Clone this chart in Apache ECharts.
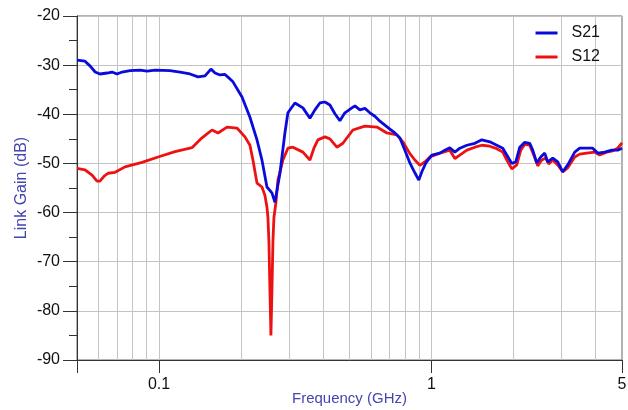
<!DOCTYPE html>
<html>
<head>
<meta charset="utf-8">
<script src="https://cdn.jsdelivr.net/npm/echarts@6/dist/echarts.min.js"></script>
<style>
html, body { margin: 0; padding: 0; background: #fff; }
#main { width: 628px; height: 410px; }
</style>
</head>
<body>
<div id="main"></div>
<script>
// S21 trace (GHz, dB)
var s21Freq = [0.0500, 0.0535, 0.0559, 0.0583, 0.0607, 0.0645, 0.0672, 0.0701, 0.0732, 0.0783,
	0.0852, 0.0904, 0.0967, 0.1097, 0.1194, 0.1299, 0.1390, 0.1475, 0.1551, 0.1605,
	0.1674, 0.1746, 0.1821, 0.1868, 0.2016, 0.2156, 0.2288, 0.2386, 0.2489, 0.2596,
	0.2663, 0.2778, 0.2897, 0.2971, 0.3152, 0.3373, 0.3579, 0.3733, 0.3894, 0.4062,
	0.4237, 0.4420, 0.4610, 0.4809, 0.5102, 0.5233, 0.5459, 0.5695, 0.5940, 0.6197,
	0.6464, 0.6743, 0.7034, 0.7337, 0.7653, 0.7984, 0.8328, 0.8687, 0.8980, 0.9216,
	0.9533, 1.0025, 1.073, 1.119, 1.167, 1.218, 1.270, 1.348, 1.442, 1.530,
	1.636, 1.736, 1.826, 1.889, 1.970, 2.038, 2.108, 2.198, 2.293, 2.352,
	2.433, 2.516, 2.603, 2.670, 2.785, 2.905, 3.030, 3.161, 3.354, 3.498,
	3.711, 3.904, 4.072, 4.320, 4.584, 4.821, 5.000];
var s21Gain = [-29.0, -29.2, -30.2, -31.4, -31.8, -31.6, -31.4, -31.8, -31.4, -31.1,
	-31.0, -31.2, -31.0, -31.1, -31.4, -31.8, -32.4, -32.2, -30.8, -31.6,
	-32.0, -31.9, -32.8, -33.4, -36.5, -40.6, -45.2, -49.3, -54.8, -56.0,
	-57.9, -52.0, -43.8, -39.7, -37.7, -38.7, -40.8, -39.1, -37.7, -37.5,
	-38.1, -39.9, -41.3, -39.7, -38.7, -38.3, -39.1, -38.8, -39.7, -40.4,
	-41.4, -42.2, -43.0, -43.8, -44.8, -47.3, -49.9, -51.9, -53.4, -51.7,
	-49.9, -48.3, -47.9, -47.3, -46.8, -47.7, -46.9, -46.3, -45.9, -45.2,
	-45.6, -46.3, -46.9, -48.3, -50.0, -49.7, -46.7, -45.7, -45.9, -47.3,
	-49.9, -48.7, -47.9, -49.7, -48.9, -49.7, -51.7, -50.3, -47.7, -46.9,
	-46.9, -46.9, -47.9, -47.7, -47.3, -47.3, -46.9];

// S12 trace (GHz, dB)
var s12Freq = [0.0500, 0.0535, 0.0568, 0.0592, 0.0607, 0.0629, 0.0650, 0.0690, 0.0750, 0.0866,
	0.0992, 0.1145, 0.1321, 0.1438, 0.1500, 0.1565, 0.1646, 0.1776, 0.1932, 0.2067,
	0.2156, 0.2211, 0.2288, 0.2386, 0.2447, 0.2489, 0.2510, 0.2531, 0.2553, 0.2574,
	0.2596, 0.2618, 0.2640, 0.2685, 0.2731, 0.2849, 0.2971, 0.3099, 0.3373, 0.3579,
	0.3702, 0.3829, 0.4062, 0.4237, 0.4495, 0.4728, 0.5145, 0.5695, 0.6304, 0.6858,
	0.7463, 0.7851, 0.8328, 0.8687, 0.9062, 0.9452, 0.9858, 1.073, 1.167, 1.218,
	1.270, 1.348, 1.442, 1.530, 1.636, 1.736, 1.826, 1.889, 1.970, 2.055,
	2.126, 2.198, 2.293, 2.372, 2.453, 2.538, 2.625, 2.692, 2.785, 2.905,
	3.030, 3.161, 3.354, 3.498, 3.711, 3.970, 4.141, 4.394, 4.584, 4.821, 5.000];
var s12Gain = [-51.0, -51.3, -52.4, -53.6, -53.6, -52.6, -52.0, -51.8, -50.7, -49.8,
	-48.7, -47.6, -46.8, -44.8, -44.0, -43.2, -43.8, -42.6, -42.8, -44.6,
	-46.3, -49.3, -54.0, -54.8, -56.5, -58.9, -61.0, -66.0, -76.0, -85.0,
	-76.0, -66.0, -61.0, -58.0, -53.4, -49.3, -46.9, -46.7, -47.7, -49.3,
	-46.9, -45.2, -44.6, -45.0, -46.7, -45.9, -43.2, -42.4, -42.6, -43.8,
	-44.2, -45.6, -48.0, -49.3, -50.4, -49.7, -48.7, -47.9, -47.3, -49.0,
	-48.3, -47.3, -46.7, -46.3, -46.5, -47.0, -47.7, -49.3, -51.1, -50.3,
	-47.3, -46.1, -46.3, -48.3, -50.5, -49.3, -48.9, -50.1, -49.3, -50.3,
	-51.7, -50.9, -48.7, -48.1, -47.9, -47.7, -48.3, -47.7, -47.5, -46.9, -45.8];

// axis ticks
var gridFreqs = [0.06, 0.07, 0.08, 0.09, 0.1, 0.2, 0.3, 0.4, 0.5, 0.6, 0.7, 0.8, 0.9, 1, 2, 3, 4];
var xLabels = [0.1, 1, 5];

function pairs(xs, ys) {
	var out = [];
	for (var i = 0; i < xs.length; i++) out.push([xs[i], ys[i]]);
	return out;
}

var myChart = echarts.init(document.getElementById('main'));
var font = 'Liberation Sans, Arial, sans-serif';
var option = {
	backgroundColor: '#fff',
	animation: false,
	textStyle: { fontFamily: font },
	grid: {
		left: 77,
		right: 6,
		top: 16,
		bottom: 50,
		outerBoundsMode: 'none',
		containLabel: false,
		show: true,
		borderColor: '#666',
		borderWidth: 1,
		backgroundColor: 'transparent'
	},
	legend: {
		data: ['S21', 'S12'],
		orient: 'vertical',
		right: 23,
		top: 20,
		icon: 'rect',
		itemWidth: 22,
		itemHeight: 3,
		itemGap: 8,
		textStyle: { fontSize: 16, color: '#111', fontFamily: font, padding: [0, 0, 0, 9] }
	},
	xAxis: {
		type: 'log',
		logBase: 10,
		min: 0.05,
		max: 5,
		name: 'Frequency (GHz)',
		nameLocation: 'middle',
		nameGap: 31,
		nameMoveOverlap: false,
		nameTextStyle: { color: '#4545b0', fontSize: 15, fontFamily: font },
		axisLine: { lineStyle: { color: '#333', width: 1 } },
		axisTick: { show: true, length: 13, lineStyle: { color: '#333' } },
		splitLine: { show: false },
		axisLabel: {
			showMinLabel: true,
			showMaxLabel: true,
			margin: 17,
			fontSize: 16,
			color: '#111',
			formatter: function (v) {
				for (var i = 0; i < xLabels.length; i++) {
					if (Math.abs(v - xLabels[i]) < xLabels[i] * 1e-6) return String(xLabels[i]);
				}
				return '';
			}
		}
	},
	yAxis: {
		type: 'value',
		min: -90,
		max: -20,
		interval: 10,
		name: 'Link Gain (dB)',
		nameLocation: 'middle',
		nameGap: 47,
		nameMoveOverlap: false,
		nameTextStyle: { color: '#4545b0', fontSize: 16, fontFamily: font },
		axisLine: { show: true, lineStyle: { color: '#333', width: 1 } },
		axisTick: { show: true, length: 14, lineStyle: { color: '#333' } },
		minorTick: { show: true, splitNumber: 2, length: 8, lineStyle: { color: '#333' } },
		splitLine: { show: true, lineStyle: { color: '#c4c4c4', width: 1 } },
		axisLabel: { margin: 17, fontSize: 16, color: '#111' }
	},
	series: [
		{
			name: 'grid',
			type: 'line',
			data: [],
			silent: true,
			markLine: {
				silent: true,
				z: 1,
				symbol: ['none', 'none'],
				label: { show: false },
				lineStyle: { color: '#c4c4c4', width: 1, type: 'solid' },
				data: gridFreqs.map(function (f) { return { xAxis: f }; })
			}
		},
		{
			name: 'S21',
			type: 'line',
			z: 4,
			showSymbol: false,
			data: pairs(s21Freq, s21Gain),
			lineStyle: { color: '#0a0adc', width: 2.8 },
			itemStyle: { color: '#0a0adc' }
		},
		{
			name: 'S12',
			type: 'line',
			z: 3,
			showSymbol: false,
			data: pairs(s12Freq, s12Gain),
			lineStyle: { color: '#ee1111', width: 2.8 },
			itemStyle: { color: '#ee1111' }
		}
	]
};
myChart.setOption(option);
</script>
</body>
</html>
